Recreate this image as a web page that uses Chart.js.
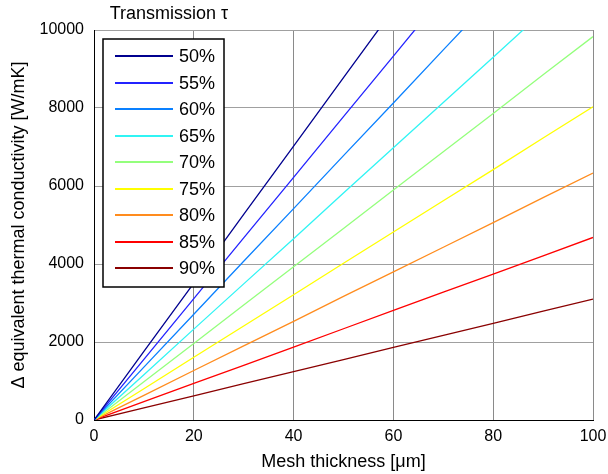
<!DOCTYPE html>
<html>
<head>
<meta charset="utf-8">
<script src="https://cdn.jsdelivr.net/npm/chart.js@4"></script>
<style>
  html, body { margin: 0; padding: 0; background: #fff; }
  #chart { display: block; }
</style>
</head>
<body>
<canvas id="chart" width="608" height="474"></canvas>
<script>
// mesh thickness in um
var thickness = [0, 10, 20, 30, 40, 50, 60, 70, 80, 90, 100];

var seriesLabels = ["50%", "55%", "60%", "65%", "70%", "75%", "80%", "85%", "90%"];
var seriesColors = ["#00008f", "#2323ff", "#0a80ff", "#30f4f4", "#94ff7c", "#ffff00", "#ff8c1e", "#ff0000", "#8a0000"];

// delta equivalent thermal conductivity [W/mK]
var t50 = [0, 1760, 3510, 5270, 7020, 8780, 10530];
var t55 = [0, 1555, 3110, 4670, 6220, 7780, 9330, 10890];
var t60 = [0, 1355, 2710, 4070, 5420, 6780, 8130, 9490, 10840];
var t65 = [0, 1160, 2330, 3490, 4650, 5820, 6980, 8140, 9300, 10470];
var t70 = [0, 980, 1960, 2950, 3930, 4910, 5900, 6880, 7860, 8850, 9830];
var t75 = [0, 800, 1610, 2410, 3210, 4020, 4820, 5620, 6420, 7230, 8030];
var t80 = [0, 630, 1270, 1900, 2530, 3170, 3800, 4430, 5060, 5700, 6330];
var t85 = [0, 470, 940, 1400, 1870, 2340, 2810, 3280, 3740, 4210, 4680];
var t90 = [0, 310, 620, 930, 1240, 1550, 1860, 2170, 2480, 2790, 3100];

var allSeries = [t50, t55, t60, t65, t70, t75, t80, t85, t90];

var xTicks = [0, 20, 40, 60, 80, 100];
var yTicks = [0, 2000, 4000, 6000, 8000, 10000];

var FONT = 'Arial, "Liberation Sans", sans-serif';

var datasets = allSeries.map(function (vals, i) {
  return {
    label: seriesLabels[i],
    data: vals.map(function (v, j) { return { x: thickness[j], y: v }; }),
    borderColor: seriesColors[i],
    backgroundColor: seriesColors[i],
    borderWidth: 1.3,
    pointRadius: 0,
    tension: 0,
    fill: false
  };
});

// legend box drawn inside the plot, matlab style
var boxLegend = {
  id: "boxLegend",
  afterDatasetsDraw: function (chart) {
    var ctx = chart.ctx;
    ctx.save();
    ctx.fillStyle = "#fff";
    ctx.fillRect(103, 39, 121, 248);
    ctx.strokeStyle = "#000";
    ctx.lineWidth = 1.5;
    ctx.strokeRect(103, 39, 121, 248);
    ctx.font = "18px " + FONT;
    ctx.textBaseline = "middle";
    chart.data.datasets.forEach(function (ds, i) {
      var y = Math.round(56 + i * 26.5);
      ctx.fillStyle = seriesColors[i];
      ctx.fillRect(115, y - 1, 58, 2);
      ctx.fillStyle = "#000";
      ctx.fillText(ds.label, 179, y + 1);
    });
    ctx.restore();
  }
};

var topTitle = {
  id: "topTitle",
  afterDraw: function (chart) {
    var ctx = chart.ctx;
    ctx.save();
    ctx.font = "18px " + FONT;
    ctx.fillStyle = "#000";
    ctx.textAlign = "center";
    ctx.textBaseline = "middle";
    ctx.fillText("Transmission \u03c4", 169, 14);
    ctx.restore();
  }
};

new Chart(document.getElementById("chart"), {
  type: "line",
  data: { datasets: datasets },
  plugins: [boxLegend, topTitle],
  options: {
    responsive: false,
    animation: false,
    devicePixelRatio: 1,
    layout: { padding: { left: 0, top: 30, right: 15, bottom: 0 } },
    plugins: {
      legend: { display: false },
      tooltip: { enabled: false }
    },
    scales: {
      x: {
        type: "linear",
        min: 0,
        max: 100,
        afterFit: function (scale) {
          scale.height = 54;
          scale.paddingLeft = 0;
          scale.paddingRight = 0;
        },
        afterBuildTicks: function (scale) {
          scale.ticks = xTicks.map(function (v) { return { value: v }; });
        },
        grid: { color: "#8a8a8a", lineWidth: 1, drawTicks: false },
        border: { color: "#000", width: 1 },
        ticks: {
          color: "#000",
          padding: 7,
          maxRotation: 0,
          font: { family: FONT, size: 16 }
        },
        title: {
          display: true,
          text: "Mesh thickness [\u03bcm]",
          color: "#000",
          font: { family: FONT, size: 18 },
          padding: { top: 0, bottom: 1 }
        }
      },
      y: {
        type: "linear",
        min: 0,
        max: 10000,
        afterFit: function (scale) {
          scale.width = 94;
          scale.paddingTop = 0;
          scale.paddingBottom = 0;
        },
        afterBuildTicks: function (scale) {
          scale.ticks = yTicks.map(function (v) { return { value: v }; });
        },
        grid: { color: "#a0a0a0", lineWidth: 1, drawTicks: false },
        border: { color: "#000", width: 1 },
        ticks: {
          color: "#000",
          padding: 10,
          font: { family: FONT, size: 16 },
          callback: function (v) { return String(v); }
        },
        title: {
          display: true,
          text: "\u0394 equivalent thermal conductivity [W/mK]",
          color: "#000",
          font: { family: FONT, size: 18 },
          padding: { top: 8, bottom: 0 }
        }
      }
    }
  }
});
</script>
</body>
</html>
